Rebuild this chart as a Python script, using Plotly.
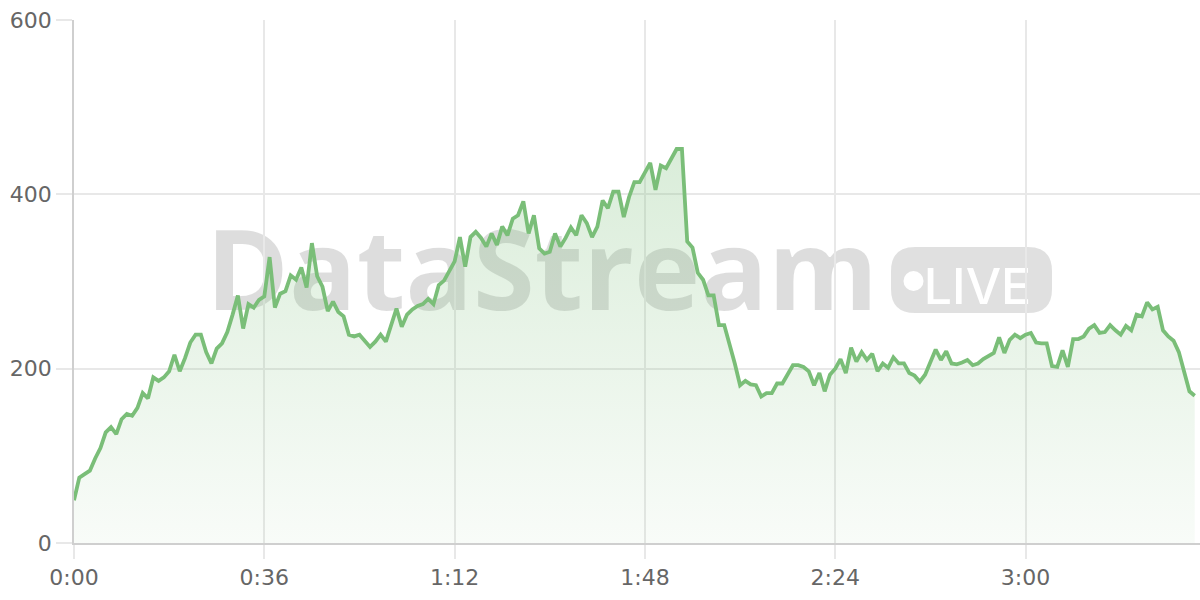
import plotly.graph_objects as go

# ---------------- data ----------------
seconds = list(range(213))
values = [
    49, 75, 79, 83, 97, 109, 127, 133, 125, 142,
    148, 146, 155, 172, 166, 190, 186, 190, 197, 216,
    197, 212, 230, 239, 239, 219, 206, 223, 229, 242,
    262, 284, 246, 274, 270, 279, 283, 328, 270, 286,
    289, 307, 302, 316, 293, 344, 306, 294, 266, 277,
    265, 260, 239, 237, 239, 232, 225, 231, 239, 231,
    251, 269, 248, 262, 268, 272, 274, 280, 274, 296,
    301, 313, 323, 351, 317, 351, 357, 350, 340, 355,
    342, 363, 353, 372, 376, 392, 355, 376, 338, 332,
    334, 355, 340, 350, 362, 353, 376, 367, 351, 363,
    393, 384, 403, 403, 374, 397, 414, 414, 424, 436,
    405, 433, 430, 441, 452, 452, 346, 339, 310, 302,
    284, 284, 250, 250, 229, 206, 181, 186, 182, 181,
    168, 172, 172, 183, 183, 193, 204, 204, 202, 197,
    181, 195, 174, 193, 200, 211, 195, 224, 208, 219,
    210, 217, 197, 206, 201, 213, 206, 206, 195, 192,
    185, 193, 208, 222, 210, 220, 206, 205, 207, 210,
    204, 206, 211, 215, 218, 236, 218, 233, 239, 235,
    239, 241, 230, 229, 229, 203, 202, 221, 202, 234,
    234, 237, 246, 250, 241, 242, 250, 244, 239, 249,
    244, 262, 260, 276, 268, 271, 244, 237, 232, 219,
    198, 174, 169,
]
x_tick_values = [0, 36, 72, 108, 144, 180]
x_tick_labels = ["0:00", "0:36", "1:12", "1:48", "2:24", "3:00"]
y_tick_values = [0, 200, 400, 600]
watermark_text = "DataStream"
badge_text = "LIVE"

# ---------------- style ----------------
LINE = "rgb(122,190,120)"
GRID = "#e8e8e8"
AXIS = "#cfcfcf"
TICKFONT = dict(family="DejaVu Sans", size=22, color="#666666")
WM = "rgba(0,0,0,0.135)"

fig = go.Figure()
fig.add_trace(go.Scatter(
    x=seconds, y=values, mode="lines",
    line=dict(color=LINE, width=3.8),
    fill="tozeroy",
    fillgradient=dict(
        type="vertical", start=0, stop=max(values),
        colorscale=[[0, "rgba(122,190,120,0.05)"], [1, "rgba(122,190,120,0.28)"]],
    ),
    hoverinfo="skip", showlegend=False,
))

# watermark (decoration, paper coordinates)
px0, pw, py0, ph = 74, 1126, 543, 523
def fx(px):
    return (px - px0) / pw
def fy(py):
    return (py0 - py) / ph

shapes = []
shapes.append(dict(
    type="rect", xref="paper", yref="paper",
    x0=fx(211), x1=fx(873), y0=fy(316), y1=fy(232),
    line=dict(width=0), fillcolor="rgba(0,0,0,0)", layer="between",
    label=dict(text=watermark_text, textposition="middle center",
               font=dict(family="Open Sans", size=112, color=WM, weight=700)),
))
# pill
x0, x1, y0, y1 = fx(891), fx(1052), fy(313), fy(247)
rx, ry = 24 / pw, 24 / ph
path = (f"M {x0+rx},{y0} L {x1-rx},{y0} Q {x1},{y0} {x1},{y0+ry} "
        f"L {x1},{y1-ry} Q {x1},{y1} {x1-rx},{y1} L {x0+rx},{y1} "
        f"Q {x0},{y1} {x0},{y1-ry} L {x0},{y0+ry} Q {x0},{y0} {x0+rx},{y0} Z")
shapes.append(dict(type="path", xref="paper", yref="paper", path=path,
                   fillcolor="rgba(0,0,0,0.12)", line=dict(width=0), layer="between"))
shapes.append(dict(type="circle", xref="paper", yref="paper",
                   x0=fx(903.5), x1=fx(923.5), y0=fy(291), y1=fy(271),
                   fillcolor="white", line=dict(width=0), layer="between"))
shapes.append(dict(
    type="rect", xref="paper", yref="paper",
    x0=fx(926), x1=fx(1029), y0=fy(302), y1=fy(266),
    line=dict(width=0), fillcolor="rgba(0,0,0,0)", layer="between",
    label=dict(text=badge_text, textposition="middle center",
               font=dict(family="Inter", size=50, color="white", weight=500)),
))

fig.update_layout(
    width=1200, height=600,
    margin=dict(l=74, r=0, t=20, b=57, autoexpand=False),
    paper_bgcolor="white", plot_bgcolor="white",
    shapes=shapes,
    showlegend=False,
    xaxis=dict(
        range=[0, 213], tickmode="array", tickvals=x_tick_values, ticktext=x_tick_labels,
        showgrid=True, gridcolor=GRID, gridwidth=1.5,
        ticks="outside", ticklen=14, tickcolor=GRID, tickwidth=1.5,
        showline=True, linecolor=AXIS, linewidth=1.5,
        zeroline=False, tickfont=TICKFONT, fixedrange=True, automargin=False,
    ),
    yaxis=dict(
        range=[0, 600], tickmode="array", tickvals=y_tick_values,
        showgrid=True, gridcolor=GRID, gridwidth=1.5,
        ticks="outside", ticklen=16, tickcolor=GRID, tickwidth=1.5,
        showline=True, linecolor=AXIS, linewidth=1.5,
        zeroline=False, tickfont=TICKFONT, fixedrange=True, automargin=False,
    ),
)

fig.write_html(
    "out.html",
    config={"displayModeBar": False},
    post_script="document.body.style.margin='0';document.body.style.overflow='hidden';",
)
